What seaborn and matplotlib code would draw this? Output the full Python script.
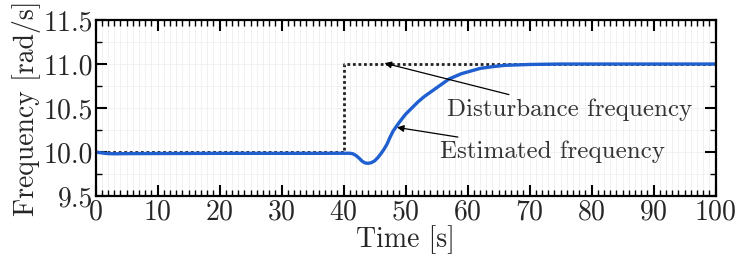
import numpy as np
import pandas as pd
import matplotlib.pyplot as plt
from matplotlib.ticker import MultipleLocator
import seaborn as sns

# Data
time_est = [0, 0.5, 1, 1.5, 2, 3, 5, 10, 15, 20, 25, 30, 35, 40, 41, 41.5, 42, 42.5, 43,
            43.5, 44, 44.5, 45, 45.5, 46, 46.5, 47, 47.5, 48, 48.5, 49, 50, 51, 52, 53,
            54, 55, 56, 57, 58, 59, 60, 62, 64, 66, 68, 70, 75, 80, 90, 100]
freq_est = [10.0, 9.995, 9.99, 9.985, 9.982, 9.98, 9.982, 9.983, 9.984, 9.985, 9.985,
            9.985, 9.985, 9.986, 9.986, 9.98, 9.96, 9.93, 9.895, 9.875, 9.872, 9.88,
            9.9, 9.935, 9.98, 10.03, 10.09, 10.17, 10.24, 10.29, 10.34, 10.43, 10.5,
            10.57, 10.63, 10.68, 10.73, 10.78, 10.83, 10.86, 10.89, 10.91, 10.95, 10.97,
            10.985, 10.99, 10.995, 11.0, 11.0, 11.0, 11.0]
time_dist = [0, 40, 40, 100]
freq_dist = [10.0, 10.0, 11.0, 11.0]

df_est = pd.DataFrame({'time': time_est, 'freq': freq_est})
df_dist = pd.DataFrame({'time': time_dist, 'freq': freq_dist})

sns.set_style("ticks")
plt.rcParams['font.family'] = ['cmr10', 'DejaVu Serif']
plt.rcParams['axes.formatter.use_mathtext'] = True

fig, ax = plt.subplots(figsize=(7.47, 2.6), dpi=100)
fig.subplots_adjust(left=0.128, right=0.958, top=0.923, bottom=0.246)

sns.lineplot(data=df_dist, x='time', y='freq', ax=ax, estimator=None, sort=False,
             color='#222222', linestyle=(0, (1, 1)), linewidth=2.0)
sns.lineplot(data=df_est, x='time', y='freq', ax=ax, estimator=None, sort=False,
             color='#1f5fcf', linewidth=2.4)

ax.set_xlim(0, 100)
ax.set_ylim(9.5, 11.5)
ax.xaxis.set_major_locator(MultipleLocator(10))
ax.xaxis.set_minor_locator(MultipleLocator(1))
ax.yaxis.set_major_locator(MultipleLocator(0.5))
ax.yaxis.set_minor_locator(MultipleLocator(0.25))
ax.yaxis.set_major_formatter(plt.FormatStrFormatter('%.1f'))

ax.grid(True, which='both', color='#efefef', linewidth=0.6)
ax.set_axisbelow(True)
ax.tick_params(which='both', direction='in', top=True, right=True, color='black')
ax.tick_params(which='major', length=8, width=1.5, labelsize=20, pad=2)
ax.tick_params(which='minor', length=4, width=1.0)
for s in ax.spines.values():
    s.set_color('black')
    s.set_linewidth(1.6)

ax.set_xlabel('Time [s]', fontsize=20, labelpad=0)
ax.set_ylabel('Frequency [rad/s]', fontsize=20, labelpad=2)

arrow = dict(arrowstyle='-|>', color='black', linewidth=0.9, mutation_scale=10,
             shrinkA=2, shrinkB=0)
ax.annotate('Disturbance frequency', xy=(46.6, 11.01), xytext=(56.6, 10.48),
            fontsize=18, color='#333333', va='center', ha='left', arrowprops=arrow)
ax.annotate('Estimated frequency', xy=(48.6, 10.28), xytext=(55.5, 10.0),
            fontsize=18, color='#333333', va='center', ha='left', arrowprops=arrow)

fig.savefig('out.png', dpi=100)
